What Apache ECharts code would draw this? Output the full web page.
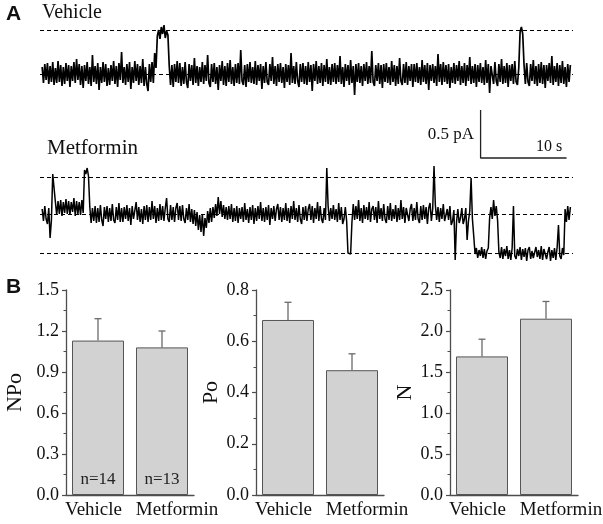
<!DOCTYPE html>
<html>
<head>
<meta charset="utf-8">
<script src="https://cdn.jsdelivr.net/npm/echarts@6/dist/echarts.min.js"></script>
<style>html,body{margin:0;padding:0;background:#fff;}#c{width:603px;height:524px;}</style>
</head>
<body>
<div id="c"></div>
<script>
// ---- Panel A: single-channel traces (~0.0104 pA per unit) ----
const sampleInterval = 0.154; // s per sample
const vehicleTrace = [
7,-9,10,-6,11,-10,8,-8,12,-11,6,-9,13,-8,9,-12,7,-10,11,-7,
9,-13,8,-7,12,-9,15,-6,10,-11,8,-14,9,-7,12,-10,7,-12,19,-8,
8,-10,11,-16,7,-9,12,-8,10,-12,6,-11,9,-7,13,-10,8,-13,11,-6,
22,-9,7,-11,10,-8,12,-15,7,-9,13,-7,10,-11,8,-9,15,-12,7,-10,
-17,10,-8,12,-9,21,6,38,44,35,47,40,49,36,43,39,8,-11,9,-13,
10,-8,13,-9,11,-12,7,-10,12,-8,-14,10,-7,9,-11,16,-9,8,-12,7,
-8,12,-10,9,-7,19,-9,-13,10,-8,11,-10,7,-16,9,-7,13,-11,8,-12,
11,-8,14,-10,7,-12,10,-9,11,-10,24,-7,-11,9,-13,10,-8,12,-9,7,
-10,13,-11,9,-7,10,-15,8,-9,12,-8,-11,10,-7,17,-10,8,-12,10,-8,
11,-9,7,-14,10,-8,9,-11,21,-9,8,-10,12,-7,-13,10,-8,11,-10,8,
-11,12,-8,9,-17,10,-7,13,-10,8,-9,11,-12,9,-8,15,-10,7,-11,10,
-8,11,-10,9,-8,18,-10,7,-13,10,-7,9,-11,14,-9,8,-21,10,-8,11,
-9,8,-12,10,-7,12,-10,8,-9,23,-8,-12,9,-7,11,-10,9,-14,10,-8,
11,-9,7,-11,13,-8,9,-12,8,-10,16,-7,-11,10,-9,12,-11,8,-7,10,
-13,10,-8,11,-9,7,-11,14,-8,9,-10,11,-16,9,-7,10,-9,8,-12,20,
-8,10,-11,12,-8,9,-10,10,-14,7,-9,11,-10,9,-7,13,-11,8,-9,11,
-12,9,-7,17,-10,8,-9,10,-13,9,-8,11,-9,7,-11,14,-9,10,-19,8,
9,-10,12,-7,-12,10,-8,15,-10,8,-9,11,-13,9,-7,10,-10,13,-8,-11,
6,42,47,40,9,-10,11,-8,-12,10,-7,14,-10,8,-12,10,-9,12,-10,9,
-14,9,-7,11,-9,18,-11,8,-8,11,-12,9,-9,13,-10,7,-13,10,-8,9
];
const metforminTrace = [
5,-7,8,-5,-10,6,-24,-6,40,38,12,-1,13,0,14,-2,12,1,15,0,
13,-1,12,2,16,-2,13,0,12,-1,14,1,44,40,46,38,7,-9,6,-7,
8,-9,6,-8,9,-6,-12,7,-5,8,-8,6,-7,10,-6,-9,7,-6,11,-8,
6,-8,7,-5,9,-7,6,-11,8,-5,-7,12,-6,7,-8,5,-10,8,-6,9,
-8,7,-6,13,-5,8,-9,6,-7,10,-6,8,-7,6,16,-5,-8,9,-6,7,
-8,6,11,-6,8,-7,9,-5,-9,6,-6,10,-8,5,-10,4,-12,2,-16,-1,
-18,0,-22,-4,-14,3,-9,6,-8,7,-4,10,-2,17,0,13,-3,9,-5,7,
-6,8,-5,10,-8,6,-7,8,-9,6,-5,7,-8,11,-6,5,-9,7,-6,9,
-10,6,-7,8,-5,12,-7,6,-8,7,-6,9,-11,6,-5,8,-7,5,10,-6,
7,-8,6,-6,11,-7,6,-9,8,-5,13,-6,6,-8,9,-5,-10,7,-6,8,
-7,5,10,-6,8,-9,6,-5,12,-7,8,-5,-9,6,-6,46,8,-7,6,-5,
9,-6,5,-8,11,-6,7,-10,-5,7,-7,-39,-37,-40,-8,10,-6,8,-5,14,
-7,6,-9,9,-5,7,-6,12,-8,5,8,-6,7,-9,13,-5,6,-7,10,-5,
-9,8,-6,11,-7,5,-5,9,-8,6,-6,14,-5,7,-9,6,8,-7,5,10,
-7,6,-6,12,-5,-9,8,-6,9,-5,7,-10,6,11,-7,5,48,9,-6,7,
-8,6,-5,10,-7,-9,5,-6,8,-11,-7,4,-46,-8,5,-9,-4,6,-10,-5,
6,-26,-7,3,36,-5,-22,-40,-34,-44,-36,-42,-33,-44,-35,-45,-37,-34,-4,7,
-5,14,-2,8,-6,-38,-44,-33,-45,-35,-42,-32,-45,-36,-46,-34,8,-42,-45,-35,
-42,-33,-46,-35,-43,-34,-47,-36,-33,-45,-37,-44,-46,-33,-43,-36,-45,-32,-46,-35,
-35,-45,-38,-33,-47,-36,-44,-34,-46,-33,-11,-42,-45,-34,-41,5,-8,8,-6,7
];
const vehicleLevels = [44, 0];
const metforminLevels = [37, 0, -39];
const scaleBarTime = [51, 61];      // s  (10 s)
const scaleBarCurrent = [56, 104];  // units (0.5 pA)

// ---- Panel B: bar charts ----
const categories = ['Vehicle', 'Metformin'];
const npoMean = [1.13, 1.08];
const npoSem  = [0.16, 0.12];
const poMean  = [0.683, 0.487];
const poSem   = [0.069, 0.064];
const nMean   = [1.69, 2.15];
const nSem    = [0.21, 0.21];
const nCounts = ['n=14', 'n=13'];

const SERIF = '"Liberation Serif","Times New Roman",serif';
const SANS = '"Liberation Sans",Arial,sans-serif';
const AX = '#4d4d4d';

const chart = echarts.init(document.getElementById('c'), null, {renderer: 'canvas'});

function toXY(arr){ return arr.map((v,i)=>[i*sampleInterval, v]); }

const grids = [
  {left: 40, top: 14, width: 533, height: 90},
  {left: 40, top: 104, width: 533, height: 160},
  {left: 66, top: 290, width: 128, height: 205},
  {left: 256, top: 290, width: 128, height: 205},
  {left: 450, top: 290, width: 128, height: 205}
].map(g => Object.assign({containLabel: false, outerBoundsMode: 'none'}, g));

const traceX = i => ({gridIndex: i, type: 'value', min: -0.25, max: 61.75, show: false});
const xAxes = [traceX(0), traceX(1)];
const yAxes = [
  {gridIndex: 0, type: 'value', min: -30, max: 60, show: false},
  {gridIndex: 1, type: 'value', min: -50, max: 110, show: false}
];

function barAxes(gi, max, interval, name, nameGap){
  xAxes.push({
    gridIndex: gi, type: 'category', data: categories,
    axisLine: {show: true, lineStyle: {color: AX, width: 1.3}},
    axisTick: {show: false},
    axisLabel: {fontFamily: SERIF, fontSize: 19, color: '#111', margin: 6, interval: 0,
      formatter: (v, i) => i === 0 ? '{a|' + v + '}' : '{b|' + v + '}',
      rich: {
        a: {fontFamily: SERIF, fontSize: 19, color: '#111', padding: [0, 9, 0, 0]},
        b: {fontFamily: SERIF, fontSize: 19, color: '#111', padding: [0, 0, 0, 30]}
      }}
  });
  yAxes.push({
    gridIndex: gi, type: 'value', min: 0, max: max, interval: interval,
    name: name, nameLocation: 'middle', nameGap: nameGap, nameRotate: 90,
    nameTextStyle: {fontFamily: SERIF, fontSize: 22, color: '#111'},
    axisLine: {show: true, lineStyle: {color: AX, width: 1.3}},
    axisTick: {show: true, inside: false, length: 4, lineStyle: {color: AX, width: 1.2}},
    minorTick: {show: true, splitNumber: 2, length: 2.5, lineStyle: {color: AX, width: 1}},
    splitLine: {show: false},
    axisLabel: {fontFamily: SERIF, fontSize: 18, color: '#111', margin: 7, formatter: v => v.toFixed(1)}
  });
}
barAxes(2, 1.5, 0.3, 'NPo', 40);
barAxes(3, 0.8, 0.2, 'Po', 30);
barAxes(4, 2.5, 0.5, 'N', 30);

function levelMark(levels){
  return {
    silent: true, symbol: 'none', animation: false,
    label: {show: false},
    lineStyle: {type: [4, 3], color: '#000', width: 1},
    data: levels.map(v => ({yAxis: v}))
  };
}

const series = [
  {type: 'line', xAxisIndex: 0, yAxisIndex: 0, data: toXY(vehicleTrace), showSymbol: false, symbol: 'none',
   lineStyle: {color: '#000', width: 1.7}, animation: false, markLine: levelMark(vehicleLevels)},
  {type: 'line', xAxisIndex: 1, yAxisIndex: 1, data: toXY(metforminTrace), showSymbol: false, symbol: 'none',
   lineStyle: {color: '#000', width: 1.5}, animation: false, markLine: levelMark(metforminLevels)},
  {type: 'line', xAxisIndex: 1, yAxisIndex: 1, showSymbol: false, symbol: 'none', animation: false,
   data: [[scaleBarTime[0], scaleBarCurrent[1]], [scaleBarTime[0], scaleBarCurrent[0]], [scaleBarTime[1], scaleBarCurrent[0]]],
   lineStyle: {color: '#222', width: 1.3}}
];

function errSeries(ai, mean, sem){
  return {
    type: 'custom', xAxisIndex: ai, yAxisIndex: ai, animation: false, z: 3,
    data: mean.map((m, i) => [i, m, sem[i]]),
    renderItem: function(params, api){
      const c = api.value(0), m = api.value(1), s = api.value(2);
      const p0 = api.coord([c, m]), p1 = api.coord([c, m + s]);
      const st = {stroke: '#6a6a6a', lineWidth: 1.3};
      return {type: 'group', children: [
        {type: 'line', shape: {x1: p0[0], y1: p0[1], x2: p1[0], y2: p1[1]}, style: st},
        {type: 'line', shape: {x1: p1[0] - 3.5, y1: p1[1], x2: p1[0] + 3.5, y2: p1[1]}, style: st}
      ]};
    }
  };
}
function barSeries(ai, mean, labels){
  return {
    type: 'bar', xAxisIndex: ai, yAxisIndex: ai, data: mean, barWidth: 52, animation: false,
    itemStyle: {color: '#d2d2d2', borderColor: '#555', borderWidth: 1},
    label: labels ? {show: true, position: 'insideBottom', distance: 7, fontFamily: SERIF, fontSize: 17, color: '#222',
      formatter: p => labels[p.dataIndex]} : {show: false}
  };
}
series.push(barSeries(2, npoMean, nCounts), errSeries(2, npoMean, npoSem));
series.push(barSeries(3, poMean, null), errSeries(3, poMean, poSem));
series.push(barSeries(4, nMean, null), errSeries(4, nMean, nSem));

const txt = (x, y, t, font, align) => ({type: 'text', x: x, y: y,
  style: {text: t, font: font, fill: '#111', textAlign: align || 'left', textVerticalAlign: 'middle'}});

chart.setOption({
  backgroundColor: '#fff',
  animation: false,
  grid: grids,
  xAxis: xAxes,
  yAxis: yAxes,
  series: series,
  graphic: [
    txt(6, 14, 'A', 'bold 21px ' + SANS),
    txt(42, 13, 'Vehicle', '20px ' + SERIF),
    txt(47, 148, 'Metformin', '21px ' + SERIF),
    txt(474, 135, '0.5 pA', '17px ' + SERIF, 'right'),
    txt(536, 147, '10 s', '16px ' + SERIF),
    txt(6, 287, 'B', 'bold 21px ' + SANS)
  ]
});
</script>
</body>
</html>
